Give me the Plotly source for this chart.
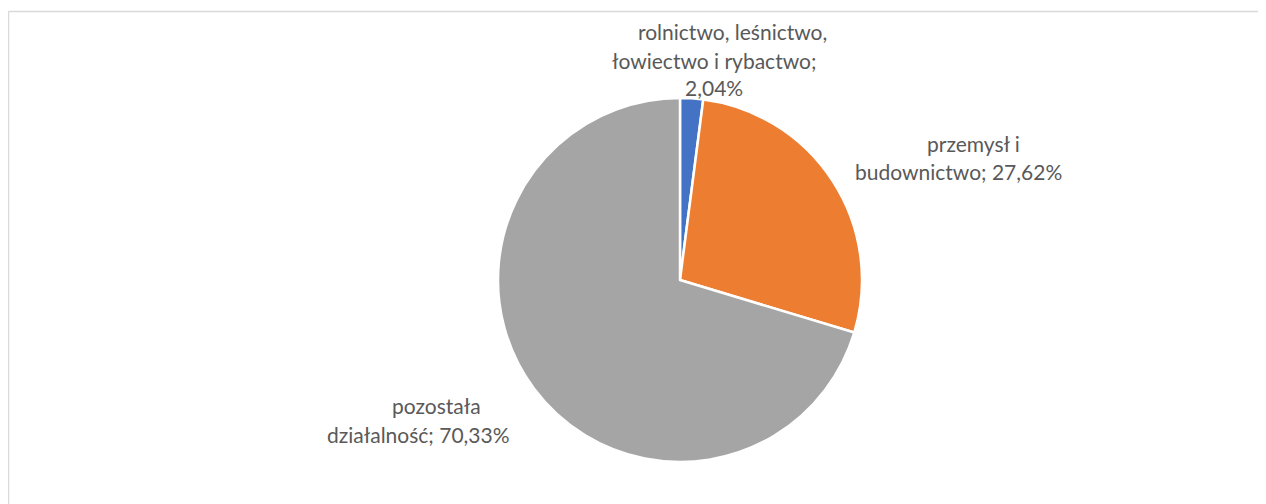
import plotly.graph_objects as go

categories = ["rolnictwo, leśnictwo, łowiectwo i rybactwo", "przemysł i budownictwo", "pozostała działalność"]
values = [2.04, 27.62, 70.33]
colors = ["#4472C4", "#ED7D31", "#A5A5A5"]
# label lines (wrapped as in the original)
label_lines = [
    ["rolnictwo, leśnictwo,", "łowiectwo i rybactwo;", "2,04%"],
    ["przemysł i", "budownictwo; 27,62%"],
    ["pozostała", "działalność; 70,33%"],
]
# centre of each label line, in screen pixels
label_pos = [
    [(732, 32), (714, 60), (714, 88)],
    [(973, 143), (958, 172)],
    [(436, 405), (418, 434)],
]

OX, OY = 8, 8  # page body margin
W, H = 1266 - OX, 504 - OY

def px(x):
    return (x - OX) / W

def py(y):
    return 1 - (y - OY) / H

fig = go.Figure(go.Pie(
    labels=categories, values=values, sort=False, direction="clockwise", rotation=0,
    marker=dict(colors=colors, line=dict(color="white", width=2.5)),
    textinfo="none", hoverinfo="label+percent", showlegend=False,
    domain=dict(x=[px(498), px(862)], y=[py(462), py(98)]),
))

for lines, positions in zip(label_lines, label_pos):
    for t, (cx, cy) in zip(lines, positions):
        fig.add_annotation(
            x=px(cx), y=py(cy), xref="paper", yref="paper",
            text=t, showarrow=False, xanchor="center", yanchor="middle",
            font=dict(family="Lato, sans-serif", size=21, color="#595959"),
        )

# chart-area border (only top and left edges fall inside the view)
border = dict(color="#D9D9D9", width=1.5)
fig.add_shape(type="line", xref="paper", yref="paper",
              x0=px(8.5), x1=px(1266), y0=py(11.5), y1=py(11.5), line=border)
fig.add_shape(type="line", xref="paper", yref="paper",
              x0=px(8.5), x1=px(8.5), y0=py(11.5), y1=py(504), line=border)

fig.update_layout(width=W, height=H, margin=dict(l=0, r=0, t=0, b=0),
                  paper_bgcolor="white", plot_bgcolor="white")
fig.write_html("out.html")
